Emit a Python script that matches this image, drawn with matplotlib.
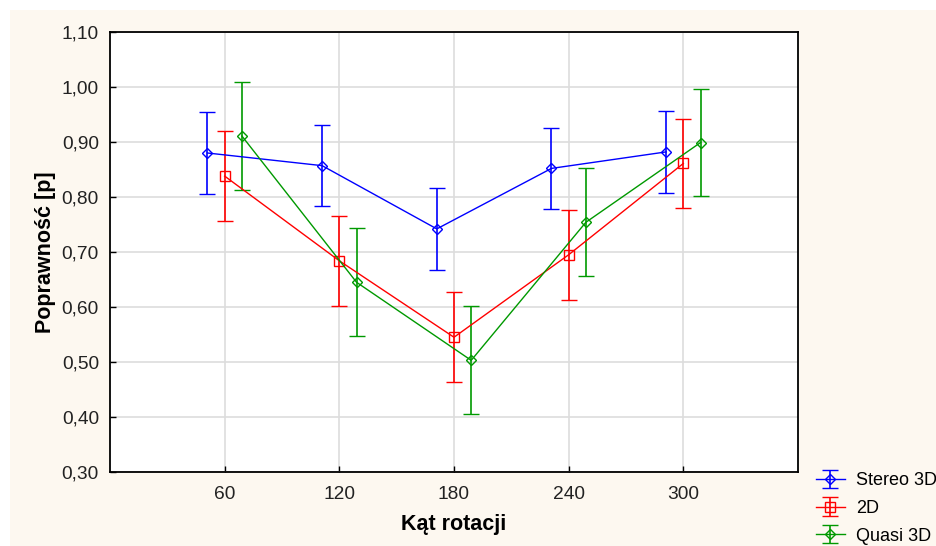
import matplotlib
matplotlib.use("Agg")
import matplotlib.pyplot as plt
from matplotlib.patches import Rectangle
import numpy as np

plt.rcParams['font.family'] = ['Liberation Sans', 'DejaVu Sans']

angles = [60, 120, 180, 240, 300]
series_names = ["Stereo 3D", "2D", "Quasi 3D"]
stereo_mean = [0.880, 0.857, 0.742, 0.852, 0.882]
stereo_err = [0.074, 0.074, 0.074, 0.074, 0.074]
d2_mean = [0.838, 0.684, 0.545, 0.695, 0.861]
d2_err = [0.082, 0.082, 0.082, 0.082, 0.081]
quasi_mean = [0.911, 0.645, 0.503, 0.754, 0.899]
quasi_err = [0.098, 0.098, 0.098, 0.098, 0.098]
yticks = [0.30, 0.40, 0.50, 0.60, 0.70, 0.80, 0.90, 1.00, 1.10]

W, H = 937, 546
fig = plt.figure(figsize=(W/100, H/100), dpi=100, facecolor='white')
fig.patches.append(Rectangle((10/W, 0), 1, 1 - 10/H, transform=fig.transFigure,
                             facecolor='#FDF8F0', edgecolor='none', zorder=-10))
ax = fig.add_axes([110/W, 1 - 472/H, (798-110)/W, (472-32)/H])
ax.set_facecolor('white')

offsets = [-9, 0, 9]
colors = ['#0000FF', '#FF0000', '#009900']
markers = ['D', 's', 'D']
msizes = [5, 7, 5]
means = [stereo_mean, d2_mean, quasi_mean]
errs = [stereo_err, d2_err, quasi_err]

for name, off, c, m, ms, mu, e in zip(series_names, offsets, colors, markers, msizes, means, errs):
    x = np.array(angles) + off
    ax.errorbar(x, mu, yerr=e, color=c, marker=m, markersize=ms,
                markerfacecolor='none', markeredgecolor=c, markeredgewidth=1.0,
                linewidth=1.0, elinewidth=1.2, capsize=6, capthick=1.2,
                label=name, zorder=3)

ax.set_xlim(0, 360)
ax.set_ylim(0.30, 1.10)
ax.set_xticks(angles)
ax.set_xticklabels([str(a) for a in angles])
ax.set_yticks(yticks)
ax.set_yticklabels([f"{v:.2f}".replace('.', ',') for v in yticks])
ax.grid(True, color='#DDDDDD', linewidth=1.2, zorder=0)
ax.set_axisbelow(True)
ax.tick_params(direction='in', length=4, width=1, labelsize=13.8, colors='black')
ax.tick_params(axis='x', pad=10)
ax.tick_params(axis='y', pad=8)
for t in ax.get_xticklabels() + ax.get_yticklabels():
    t.set_color('#222222')
for s in ax.spines.values():
    s.set_linewidth(1.3)
    s.set_color('black')

ax.set_xlabel("Kąt rotacji", fontsize=15.5, fontweight='bold', labelpad=8)
ax.set_ylabel("Poprawność [p]", fontsize=15.5, fontweight='bold', labelpad=4)

leg = fig.legend(loc='upper left', bbox_to_anchor=(816/W, 1 - 472/H), frameon=False,
                 fontsize=13, handlelength=1.6, labelspacing=0.6, handletextpad=0.6,
                 borderpad=0, borderaxespad=0)

fig.savefig("out.png", dpi=100, facecolor=fig.get_facecolor())
